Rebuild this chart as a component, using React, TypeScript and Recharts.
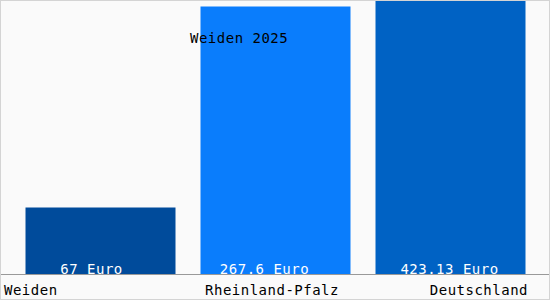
import { Bar, BarChart, Cell, LabelList, XAxis, YAxis } from "recharts";

const regions = ["Weiden", "Rheinland-Pfalz", "Deutschland"];
const values = [67, 267.6, 423.13];
const valueLabels = ["67 Euro", "267.6 Euro", "423.13 Euro"];
const barColors = ["#004b9b", "#0a7dfc", "#0062c4"];
const title = "Weiden 2025";

const data = regions.map((name, i) => ({ name, value: values[i], label: valueLabels[i] }));

const FONT = "'DejaVu Sans Mono', monospace";
const labelShift = [-9, -11, -1];

function RegionTick(props: any) {
  const { x, y, payload, index } = props;
  let anchor: "start" | "middle" | "end" = "middle";
  let tx = x - 3;
  if (index === 0) {
    anchor = "start";
    tx = 4;
  } else if (index === regions.length - 1) {
    anchor = "end";
    tx = 528;
  }
  return (
    <text
      x={tx}
      y={y}
      dy={12.5}
      textAnchor={anchor}
      fill="#000"
      fontFamily={FONT}
      fontSize={14}
      letterSpacing={0.5}
    >
      {payload.value}
    </text>
  );
}

function ValueLabel(props: any) {
  const { x, y, width, height, index } = props;
  return (
    <text
      x={x + width / 2 + labelShift[index]}
      y={y + height - 1}
      textAnchor="middle"
      fill="#fff"
      fontFamily={FONT}
      fontSize={14}
      letterSpacing={0.5}
    >
      {valueLabels[index]}
    </text>
  );
}

export default function App() {
  return (
    <div style={{ position: "relative", width: 550, height: 300, background: "#fafafa" }}>
      <style>{`body{margin:0}`}</style>
      <BarChart
        width={550}
        height={300}
        data={data}
        margin={{ top: 0, right: 0, bottom: 0, left: 0 }}
        barSize={150}
      >
        <XAxis
          dataKey="name"
          padding={{ left: 12.5, right: 12.5 }}
          axisLine={{ stroke: "#999" }}
          tickLine={false}
          tick={<RegionTick />}
          interval={0}
          height={25.5}
        />
        <YAxis hide domain={[0, 274]} allowDataOverflow />
        <Bar dataKey="value" isAnimationActive={false}>
          {data.map((d, i) => (
            <Cell key={d.name} fill={barColors[i]} />
          ))}
          <LabelList dataKey="label" content={<ValueLabel />} />
        </Bar>
      </BarChart>
      <div
        style={{
          position: "absolute",
          left: 190,
          top: 30,
          fontFamily: FONT,
          fontSize: 14,
          letterSpacing: 0.5,
          color: "#000",
          lineHeight: "17px",
          whiteSpace: "nowrap",
        }}
      >
        {title}
      </div>
      <div
        style={{
          position: "absolute",
          inset: 0,
          border: "1px solid #d4d4d4",
          pointerEvents: "none",
        }}
      />
    </div>
  );
}
